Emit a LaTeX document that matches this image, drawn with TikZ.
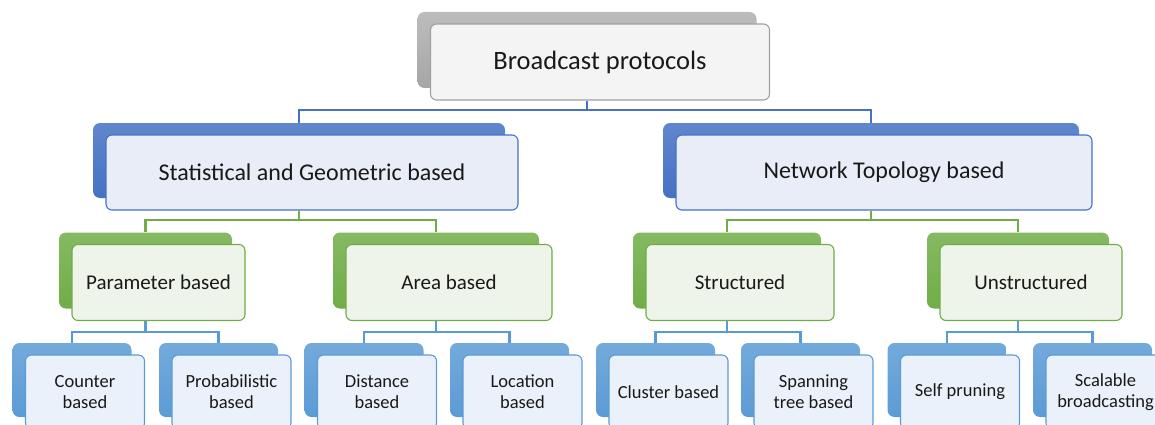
\documentclass[tikz,border=0pt]{standalone}
\usepackage{fontspec}
\setmainfont{Carlito}
\usetikzlibrary{calc}
\pgfdeclarelayer{bg}
\pgfsetlayers{bg,main}
\definecolor{grayback}{HTML}{A6A6A6}
\definecolor{blueback}{HTML}{4472C4}
\definecolor{greenback}{HTML}{70AD47}
\definecolor{lblueback}{HTML}{5B9BD5}
\definecolor{grayfill}{HTML}{F4F4F4}
\definecolor{bluefill}{HTML}{E9EDF7}
\definecolor{greenfill}{HTML}{EEF4EA}
\definecolor{lbluefill}{HTML}{EBF1FA}
\definecolor{grayline}{HTML}{A0A0A0}
\newcommand\tierbox[8]{%
  \node[backbox,#6,minimum width=#4pt,minimum height=#5pt] (#1B) at (#2,#3) {};
  \node[frontbox,#7,minimum width=#4pt,minimum height=#5pt] (#1F) at ($(#1B)+(13,12)$) {#8};
}
\begin{document}
\begin{tikzpicture}[x=1pt,y=-1pt,
  backbox/.style={rectangle,rounded corners=7pt,inner sep=0pt,draw=none},
  frontbox/.style={rectangle,rounded corners=6pt,inner sep=0pt,align=center,line width=1.1pt,text=black!90},
  b1/.style={top color=grayback!75!white,bottom color=grayback},
  b2/.style={top color=blueback!85!white,bottom color=blueback},
  b3/.style={top color=greenback!85!white,bottom color=greenback},
  b4/.style={top color=lblueback!85!white,bottom color=lblueback},
  f1/.style={fill=grayfill,draw=grayline,font=\fontsize{26.5}{30}\selectfont},
  f2/.style={fill=bluefill,draw=blueback,font=\fontsize{24}{28}\selectfont},
  f3/.style={fill=greenfill,draw=greenback,font=\fontsize{21}{25}\selectfont},
  f4/.style={fill=lbluefill,draw=lblueback,font=\fontsize{18.5}{21}\selectfont},
  c1/.style={draw=blueback,line width=2.5pt},
  c2/.style={draw=greenback,line width=2.5pt},
  c3/.style={draw=lblueback,line width=2.5pt}]
\useasboundingbox (0,0) rectangle (1155,425);
\clip (0,0) rectangle (1155,425);
% level 1
\tierbox{top}{587}{50}{339}{76}{b1}{f1}{Broadcast protocols}
% level 2
\tierbox{sg}{299}{160.5}{412}{75}{b2}{f2}{Statistical and Geometric based}
\tierbox{nt}{871}{160.5}{416}{75}{b2}{f2}{Network Topology based}
% level 3
\tierbox{pb}{145.5}{270.5}{173}{76}{b3}{f3}{Parameter based}
\tierbox{ab}{436}{270.5}{206}{76}{b3}{f3}{Area based}
\tierbox{st}{727}{270.5}{188}{76}{b3}{f3}{Structured}
\tierbox{un}{1018}{270.5}{182}{76}{b3}{f3}{Unstructured}
% level 4
\tierbox{cb}{72}{380}{119}{74}{b4}{f4}{Counter\\based}
\tierbox{prb}{218.5}{380}{119}{74}{b4}{f4}{Probabilistic\\based}
\tierbox{db}{364}{380}{119}{74}{b4}{f4}{Distance\\based}
\tierbox{lb}{509.5}{380}{119}{74}{b4}{f4}{Location\\based}
\tierbox{clb}{655.5}{380}{119}{74}{b4}{f4}{Cluster based}
\tierbox{sp}{800.5}{380}{119}{74}{b4}{f4}{Spanning\\tree based}
\tierbox{sfp}{947}{380}{119}{74}{b4}{f4}{Self pruning}
\tierbox{sc}{1092.5}{380}{119}{74}{b4}{f4}{Scalable\\broadcasting}
% junctions
\coordinate (j1) at (587,110);
\coordinate (j2a) at (299,220);
\coordinate (j2b) at (871,220);
\coordinate (j3a) at (145.5,332);
\coordinate (j3b) at (436,332);
\coordinate (j3c) at (727,332);
\coordinate (j3d) at (1018,332);
\begin{pgfonlayer}{bg}
\draw[c1] (topB.center |- topF.south) -- (j1);
\draw[c1] (j1) -| (sgB.north);
\draw[c1] (j1) -| (ntB.north);
\draw[c2] (sgB.center |- sgF.south) -- (j2a);
\draw[c2] (j2a) -| (pbB.north);
\draw[c2] (j2a) -| (abB.north);
\draw[c2] (ntB.center |- ntF.south) -- (j2b);
\draw[c2] (j2b) -| (stB.north);
\draw[c2] (j2b) -| (unB.north);
\draw[c3] (pbB.center |- pbF.south) -- (j3a);
\draw[c3] (j3a) -| (cbB.north);
\draw[c3] (j3a) -| (prbB.north);
\draw[c3] (abB.center |- abF.south) -- (j3b);
\draw[c3] (j3b) -| (dbB.north);
\draw[c3] (j3b) -| (lbB.north);
\draw[c3] (stB.center |- stF.south) -- (j3c);
\draw[c3] (j3c) -| (clbB.north);
\draw[c3] (j3c) -| (spB.north);
\draw[c3] (unB.center |- unF.south) -- (j3d);
\draw[c3] (j3d) -| (sfpB.north);
\draw[c3] (j3d) -| (scB.north);
\end{pgfonlayer}
\end{tikzpicture}
\end{document}
